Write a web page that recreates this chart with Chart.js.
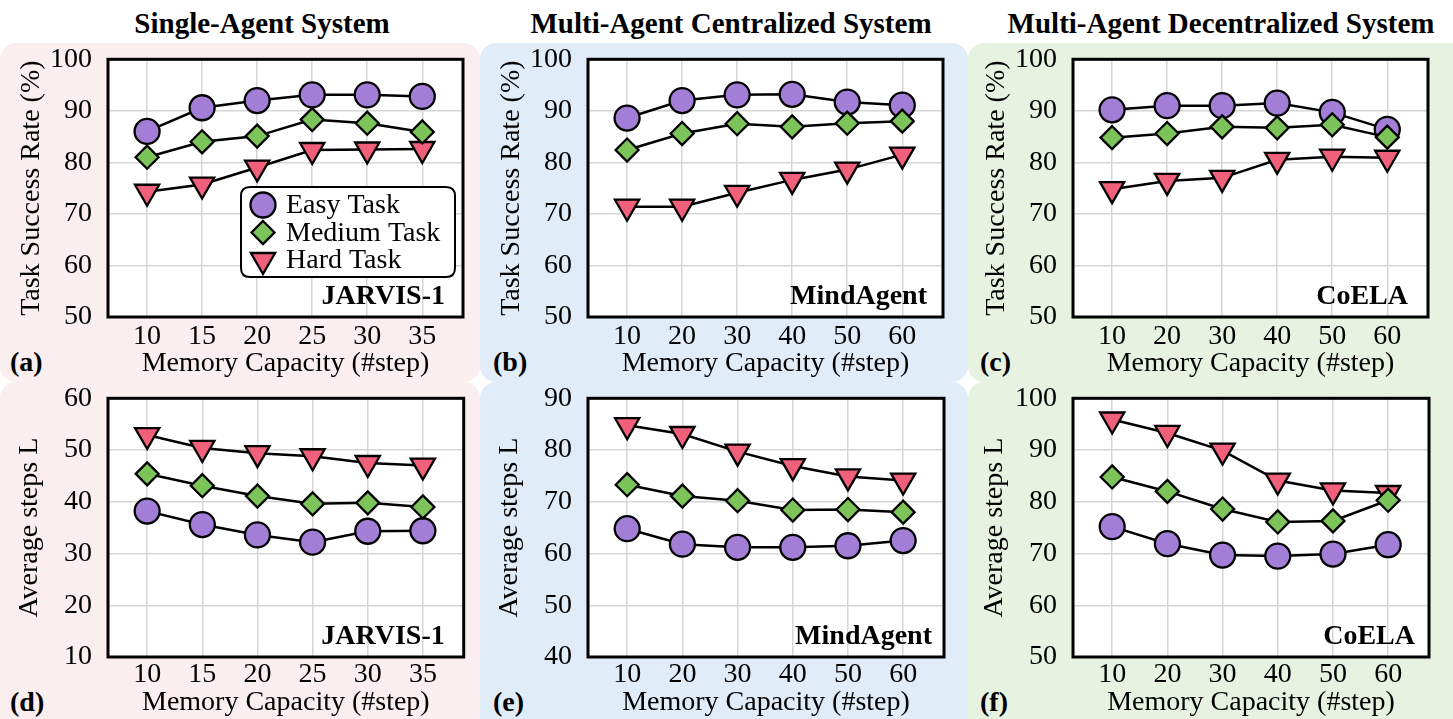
<!DOCTYPE html>
<html><head><meta charset="utf-8">
<script src="https://cdn.jsdelivr.net/npm/chart.js@4.4.1/dist/chart.umd.min.js"></script>
<style>
html,body{margin:0;padding:0;background:#fff;}
body{width:1453px;height:719px;overflow:hidden;position:relative;font-family:"Liberation Serif","Times New Roman",serif;color:#000;}
.bg{position:absolute;border-radius:16px;}
.title{position:absolute;top:8px;font-weight:bold;font-size:29px;line-height:30px;white-space:nowrap;transform:translateX(-50%);}
.lab{position:absolute;font-weight:bold;font-size:28px;line-height:30px;white-space:nowrap;}
canvas{position:absolute;}
</style>
</head><body>
<div class="bg" style="left:0;top:43px;width:480px;height:339px;background:#fbeeee"></div>
<div class="bg" style="left:480px;top:43px;width:488px;height:339px;background:#e1ecf9"></div>
<div class="bg" style="left:968px;top:43px;width:500px;height:339px;background:#e8f2e1"></div>
<div class="bg" style="left:0;top:382px;width:480px;height:360px;background:#fbeeee"></div>
<div class="bg" style="left:480px;top:382px;width:488px;height:360px;background:#e1ecf9"></div>
<div class="bg" style="left:968px;top:382px;width:500px;height:360px;background:#e8f2e1"></div>

<div class="title" style="left:262px">Single-Agent System</div>
<div class="title" style="left:731px">Multi-Agent Centralized System</div>
<div class="title" style="left:1221px">Multi-Agent Decentralized System</div>

<div class="lab" style="left:10px;top:347px">(a)</div>
<div class="lab" style="left:493px;top:347px">(b)</div>
<div class="lab" style="left:980px;top:347px">(c)</div>
<div class="lab" style="left:10px;top:687px">(d)</div>
<div class="lab" style="left:493px;top:687px">(e)</div>
<div class="lab" style="left:980px;top:687px">(f)</div>

<canvas id="ca" width="480" height="339" style="left:0;top:43px"></canvas>
<canvas id="cb" width="488" height="339" style="left:480px;top:43px"></canvas>
<canvas id="cc" width="485" height="339" style="left:968px;top:43px"></canvas>
<canvas id="cd" width="480" height="337" style="left:0;top:382px"></canvas>
<canvas id="ce" width="488" height="337" style="left:480px;top:382px"></canvas>
<canvas id="cf" width="485" height="337" style="left:968px;top:382px"></canvas>

<script>
// ---------------- DATA ----------------
const seriesNames = ['Easy Task', 'Medium Task', 'Hard Task'];
const memJarvis = [10, 15, 20, 25, 30, 35];
const memOther = [10, 20, 30, 40, 50, 60];

const yTicksRate = [50, 60, 70, 80, 90, 100];
const yTicksStepsD = [10, 20, 30, 40, 50, 60];
const yTicksStepsE = [40, 50, 60, 70, 80, 90];
const yTicksStepsF = [50, 60, 70, 80, 90, 100];

// (a) JARVIS-1 success rate
const aEasy   = [86.0, 90.6, 92.0, 93.1, 93.1, 92.8];
const aMedium = [81.0, 84.0, 85.1, 88.3, 87.6, 85.9];
const aHard   = [74.3, 75.7, 79.0, 82.4, 82.5, 82.6];
// (b) MindAgent success rate
const bEasy   = [88.6, 92.0, 93.1, 93.2, 91.7, 91.1];
const bMedium = [82.4, 85.6, 87.5, 86.9, 87.6, 88.0];
const bHard   = [71.4, 71.4, 74.1, 76.6, 78.6, 81.5];
// (c) CoELA success rate
const cEasy   = [90.2, 91.0, 91.0, 91.5, 89.7, 86.4];
const cMedium = [84.8, 85.6, 86.9, 86.7, 87.3, 84.9];
const cHard   = [74.8, 76.4, 77.0, 80.5, 81.1, 80.9];
// (d) JARVIS-1 average steps
const dEasy   = [38.2, 35.6, 33.6, 32.2, 34.3, 34.4];
const dMedium = [45.4, 43.1, 41.1, 39.6, 39.8, 39.0];
const dHard   = [52.9, 50.4, 49.4, 48.8, 47.5, 47.0];
// (e) MindAgent average steps
const eEasy   = [64.8, 61.8, 61.2, 61.2, 61.5, 62.5];
const eMedium = [73.3, 71.1, 70.2, 68.4, 68.5, 68.0];
const eHard   = [84.8, 83.1, 79.7, 76.9, 74.9, 74.1];
// (f) CoELA average steps
const fEasy   = [75.2, 71.9, 69.7, 69.5, 69.9, 71.7];
const fMedium = [84.8, 82.0, 78.6, 76.1, 76.3, 80.3];
const fHard   = [95.9, 93.3, 89.9, 84.1, 82.2, 81.7];

// ---------------- STYLE ----------------
const FONT = '"Liberation Serif", "Times New Roman", serif';
const styles = [
  {pointStyle: 'circle',  radius: 12.5, rotation: 0,   color: '#a37ed7', order: 3},
  {pointStyle: 'rectRot', radius: 11.5, rotation: 0,   color: '#7cc45a', order: 1},
  {pointStyle: 'triangle',radius: 14,   rotation: 180, color: '#f0607a', order: 2}
];

function makeDatasets(xs, seriesList) {
  return seriesList.map((ys, i) => {
    const s = styles[i];
    return {
      label: seriesNames[i],
      data: xs.map((x, k) => ({x: x, y: ys[k]})),
      borderColor: '#000', borderWidth: 2.5,
      pointStyle: s.pointStyle, pointRadius: s.radius, pointHoverRadius: s.radius,
      pointRotation: s.rotation,
      pointBackgroundColor: s.color, pointBorderColor: '#000', pointBorderWidth: 2.3,
      order: s.order, tension: 0, fill: false
    };
  });
}

const framePlugin = {
  id: 'frame',
  beforeDraw(chart) {
    const {ctx, chartArea: a} = chart;
    ctx.save();
    ctx.fillStyle = '#fff';
    ctx.fillRect(a.left, a.top, a.right - a.left, a.bottom - a.top);
    ctx.restore();
  },
  beforeDatasetsDraw(chart) {
    const {ctx, chartArea: a} = chart;
    const o = chart.options.plugins.frame;
    ctx.save();
    ctx.lineWidth = 3; ctx.strokeStyle = '#000';
    ctx.strokeRect(a.left, a.top, a.right - a.left, a.bottom - a.top);
    ctx.font = 'bold 28px ' + FONT;
    ctx.fillStyle = '#000'; ctx.textAlign = 'right'; ctx.textBaseline = 'middle';
    ctx.fillText(o.name, a.right - o.dx, a.bottom - 20);
    ctx.restore();
  }
};

function drawMarker(ctx, s, x, y) {
  const r = s.radius;
  ctx.beginPath();
  if (s.pointStyle === 'circle') {
    ctx.arc(x, y, r, 0, Math.PI * 2);
  } else if (s.pointStyle === 'rectRot') {
    ctx.moveTo(x, y - r); ctx.lineTo(x + r, y); ctx.lineTo(x, y + r); ctx.lineTo(x - r, y);
  } else {
    ctx.moveTo(x, y + r);
    ctx.lineTo(x - r * Math.sin(Math.PI / 3), y - r / 2);
    ctx.lineTo(x + r * Math.sin(Math.PI / 3), y - r / 2);
  }
  ctx.closePath();
  ctx.fillStyle = s.color; ctx.fill();
  ctx.lineWidth = 2.3; ctx.strokeStyle = '#000'; ctx.stroke();
}

const boxLegendPlugin = {
  id: 'boxLegend',
  afterDatasetsDraw(chart) {
    const o = chart.options.plugins.boxLegend;
    if (!o || !o.show) return;
    const ctx = chart.ctx;
    const x0 = o.x, y0 = o.y, w = o.w, h = o.h, rr = 9;
    ctx.save();
    ctx.beginPath();
    ctx.moveTo(x0 + rr, y0); ctx.lineTo(x0 + w - rr, y0); ctx.quadraticCurveTo(x0 + w, y0, x0 + w, y0 + rr);
    ctx.lineTo(x0 + w, y0 + h - rr); ctx.quadraticCurveTo(x0 + w, y0 + h, x0 + w - rr, y0 + h);
    ctx.lineTo(x0 + rr, y0 + h); ctx.quadraticCurveTo(x0, y0 + h, x0, y0 + h - rr);
    ctx.lineTo(x0, y0 + rr); ctx.quadraticCurveTo(x0, y0, x0 + rr, y0);
    ctx.closePath();
    ctx.fillStyle = '#fff'; ctx.fill();
    ctx.lineWidth = 2; ctx.strokeStyle = '#000'; ctx.stroke();
    chart.data.datasets.forEach((d, i) => {
      const yy = y0 + 18 + i * 27.5;
      drawMarker(ctx, styles[i], x0 + 22, yy);
      ctx.font = '28px ' + FONT;
      ctx.fillStyle = '#000'; ctx.textAlign = 'left'; ctx.textBaseline = 'middle';
      ctx.fillText(d.label, x0 + 45, yy + 1);
    });
    ctx.restore();
  }
};

function makeChart(id, cfg) {
  const step = cfg.xs[1] - cfg.xs[0];
  new Chart(document.getElementById(id), {
    type: 'line',
    data: {datasets: makeDatasets(cfg.xs, cfg.series)},
    options: {
      responsive: false, animation: false, events: [],
      layout: {padding: {top: cfg.padTop, right: cfg.padRight, left: 0, bottom: 0}},
      plugins: {
        legend: {display: false}, tooltip: {enabled: false},
        frame: {name: cfg.name, dx: cfg.nameDx},
        boxLegend: cfg.legend || {show: false}
      },
      scales: {
        x: {
          type: 'linear',
          min: cfg.xs[0] - 0.71 * step,
          max: cfg.xs[cfg.xs.length - 1] + 0.74 * step,
          afterBuildTicks: s => { s.ticks = cfg.xs.map(v => ({value: v})); },
          afterFit: s => { s.height = cfg.xH; s.paddingLeft = 0; s.paddingRight = 0; },
          grid: {color: '#d6d6d6', lineWidth: 1.5, drawTicks: false},
          border: {display: false},
          ticks: {font: {family: FONT, size: 28}, color: '#000', padding: cfg.xTickPad, maxRotation: 0, autoSkip: false},
          title: {display: true, text: 'Memory Capacity (#step)', font: {family: FONT, size: 28}, color: '#000',
                  padding: {top: 0, bottom: cfg.xTitlePad}}
        },
        y: {
          type: 'linear',
          min: cfg.yTicks[0], max: cfg.yTicks[cfg.yTicks.length - 1],
          afterBuildTicks: s => { s.ticks = cfg.yTicks.map(v => ({value: v})); },
          afterFit: s => { s.width = cfg.yW; s.paddingTop = 0; s.paddingBottom = 0; },
          grid: {color: '#d6d6d6', lineWidth: 1.5, drawTicks: false},
          border: {display: false},
          ticks: {font: {family: FONT, size: 28}, color: '#000', padding: 16},
          title: {display: true, text: cfg.yTitle, font: {family: FONT, size: 28}, color: '#000',
                  padding: {top: cfg.yTitlePad, bottom: 0}}
        }
      }
    },
    plugins: [framePlugin, boxLegendPlugin]
  });
}

const rateTitle = 'Task Success Rate (%)';
const stepsTitle = 'Average steps L';

makeChart('ca', {xs: memJarvis, series: [aEasy, aMedium, aHard], yTicks: yTicksRate, yTitle: rateTitle,
  name: 'JARVIS-1', nameDx: 18, padTop: 14, padRight: 17, yW: 108, xH: 65, xTickPad: 3, xTitlePad: 2, yTitlePad: 15,
  legend: {show: true, x: 241, y: 144, w: 214, h: 90}});
makeChart('cb', {xs: memOther, series: [bEasy, bMedium, bHard], yTicks: yTicksRate, yTitle: rateTitle,
  name: 'MindAgent', nameDx: 16, padTop: 14, padRight: 25, yW: 108, xH: 65, xTickPad: 3, xTitlePad: 2, yTitlePad: 15});
makeChart('cc', {xs: memOther, series: [cEasy, cMedium, cHard], yTicks: yTicksRate, yTitle: rateTitle,
  name: 'CoELA', nameDx: 20, padTop: 14, padRight: 25, yW: 105, xH: 65, xTickPad: 3, xTitlePad: 2, yTitlePad: 12});
makeChart('cd', {xs: memJarvis, series: [dEasy, dMedium, dHard], yTicks: yTicksStepsD, yTitle: stepsTitle,
  name: 'JARVIS-1', nameDx: 19, padTop: 13, padRight: 15, yW: 108, xH: 62, xTickPad: 1, xTitlePad: 0, yTitlePad: 13});
makeChart('ce', {xs: memOther, series: [eEasy, eMedium, eHard], yTicks: yTicksStepsE, yTitle: stepsTitle,
  name: 'MindAgent', nameDx: 12, padTop: 13, padRight: 24, yW: 108, xH: 62, xTickPad: 1, xTitlePad: 0, yTitlePad: 13});
makeChart('cf', {xs: memOther, series: [fEasy, fMedium, fHard], yTicks: yTicksStepsF, yTitle: stepsTitle,
  name: 'CoELA', nameDx: 14, padTop: 13, padRight: 24, yW: 105, xH: 62, xTickPad: 1, xTitlePad: 0, yTitlePad: 10});
</script>
</body></html>
